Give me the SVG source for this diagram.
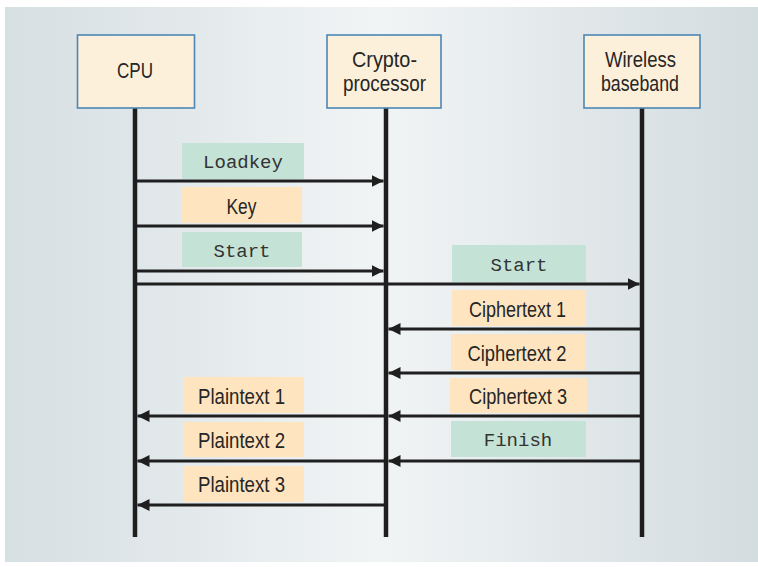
<svg xmlns="http://www.w3.org/2000/svg" width="758" height="567" viewBox="0 0 758 567">
  <defs>
    <linearGradient id="bg" x1="0" y1="0" x2="1" y2="0">
      <stop offset="0" stop-color="#d6dfe2"/>
      <stop offset="0.5" stop-color="#f1f4f5"/>
      <stop offset="1" stop-color="#d3dcdf"/>
    </linearGradient>
    <marker id="head" markerUnits="userSpaceOnUse" markerWidth="13" markerHeight="13" refX="12" refY="6" orient="auto">
      <path d="M0,0 L12,6 L0,12 z" fill="#1f1f1f"/>
    </marker>
    <style>
      .node rect { fill: #fdf0da; stroke: #4b87b6; stroke-width: 1.6; }
      .node text, .lbl text.sans { font-family: "Liberation Sans Narrow", "Liberation Sans", Arial, sans-serif; font-size: 22px; fill: #262626; text-anchor: middle; }
      .lbl text.mono { font-family: "Liberation Mono", "Courier New", monospace; font-size: 19px; fill: #333333; text-anchor: middle; }
      .green { fill: #c5e2d6; }
      .orange { fill: #fee5c0; }
      .life { stroke: #1e1e1e; stroke-width: 4.5; }
      .msg { stroke: #1f1f1f; stroke-width: 3; fill: none; marker-end: url(#head); }
    </style>
  </defs>

  <rect x="0" y="0" width="758" height="567" fill="#ffffff"/>
  <rect x="5" y="7" width="753" height="555" fill="url(#bg)"/>

  <!-- lifelines -->
  <g id="lifelines">
    <line class="life" x1="135" y1="108" x2="135" y2="537"/>
    <line class="life" x1="386" y1="108" x2="386" y2="537"/>
    <line class="life" x1="642" y1="108" x2="642" y2="537"/>
  </g>

  <g id="cpu" class="node">
    <rect x="77.5" y="35" width="117" height="73"/>
    <text x="135" y="78" textLength="36" lengthAdjust="spacingAndGlyphs">CPU</text>
  </g>
  <g id="crypto" class="node">
    <rect x="327" y="35" width="114" height="73"/>
    <text x="384.5" y="67" textLength="65" lengthAdjust="spacingAndGlyphs">Crypto-</text>
    <text x="384.5" y="91" textLength="83" lengthAdjust="spacingAndGlyphs">processor</text>
  </g>
  <g id="wireless" class="node">
    <rect x="584" y="35" width="116" height="73"/>
    <text x="640.5" y="67" textLength="71" lengthAdjust="spacingAndGlyphs">Wireless</text>
    <text x="640" y="91" textLength="78" lengthAdjust="spacingAndGlyphs">baseband</text>
  </g>

  <!-- message labels -->
  <g id="labels" class="lbl">
    <rect class="green" x="182" y="143" width="122" height="36"/>
    <text class="mono" x="243" y="168">Loadkey</text>
    <rect class="orange" x="181" y="187" width="121" height="36"/>
    <text class="sans" x="241.5" y="214" textLength="30" lengthAdjust="spacingAndGlyphs">Key</text>
    <rect class="green" x="182" y="232" width="120" height="35"/>
    <text class="mono" x="242" y="257">Start</text>

    <rect class="green" x="452" y="245" width="134" height="37"/>
    <text class="mono" x="519" y="271">Start</text>
    <rect class="orange" x="452" y="290" width="134" height="36"/>
    <text class="sans" x="517.5" y="317" textLength="97" lengthAdjust="spacingAndGlyphs">Ciphertext 1</text>
    <rect class="orange" x="451" y="334" width="134" height="36"/>
    <text class="sans" x="517" y="361" textLength="99" lengthAdjust="spacingAndGlyphs">Ciphertext 2</text>
    <rect class="orange" x="450" y="378" width="137" height="35"/>
    <text class="sans" x="518" y="404" textLength="98" lengthAdjust="spacingAndGlyphs">Ciphertext 3</text>
    <rect class="green" x="451" y="421" width="135" height="36"/>
    <text class="mono" x="518" y="446">Finish</text>

    <rect class="orange" x="183" y="377" width="121" height="36"/>
    <text class="sans" x="241.5" y="404" textLength="87" lengthAdjust="spacingAndGlyphs">Plaintext 1</text>
    <rect class="orange" x="183" y="422" width="121" height="35"/>
    <text class="sans" x="241.5" y="448" textLength="87" lengthAdjust="spacingAndGlyphs">Plaintext 2</text>
    <rect class="orange" x="183" y="466" width="121" height="36"/>
    <text class="sans" x="241.5" y="492" textLength="87" lengthAdjust="spacingAndGlyphs">Plaintext 3</text>
  </g>

  <!-- connectors -->
  <g id="connectors">
    <line class="msg" x1="137" y1="181" x2="383.5" y2="181"/>
    <line class="msg" x1="137" y1="226" x2="383.5" y2="226"/>
    <line class="msg" x1="137" y1="271" x2="383.5" y2="271"/>
    <line class="msg" x1="137" y1="284" x2="639.5" y2="284"/>
    <line class="msg" x1="640" y1="329" x2="388.5" y2="329"/>
    <line class="msg" x1="640" y1="373" x2="388.5" y2="373"/>
    <line class="msg" x1="640" y1="416" x2="388.5" y2="416"/>
    <line class="msg" x1="640" y1="461" x2="388.5" y2="461"/>
    <line class="msg" x1="384" y1="416" x2="137.5" y2="416"/>
    <line class="msg" x1="384" y1="461" x2="137.5" y2="461"/>
    <line class="msg" x1="384" y1="505" x2="137.5" y2="505"/>
  </g>
</svg>
